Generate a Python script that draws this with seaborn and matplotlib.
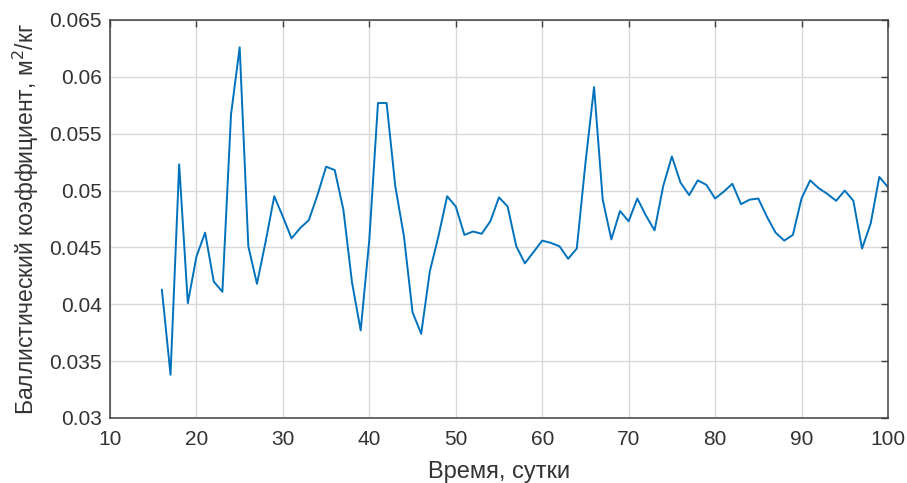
import numpy as np
import pandas as pd
import matplotlib
matplotlib.use("Agg")
import matplotlib.pyplot as plt
import seaborn as sns

days = list(range(16, 101))
coef = [0.0413, 0.0338, 0.0523, 0.0401, 0.0442, 0.0463, 0.0420, 0.0411, 0.0567, 0.0626,
        0.0451, 0.0418, 0.0455, 0.0495, 0.0477, 0.0458, 0.0467, 0.0474, 0.0496, 0.0521,
        0.0518, 0.0483, 0.0419, 0.0377, 0.0457, 0.0577, 0.0577, 0.0504, 0.0460, 0.0393,
        0.0374, 0.0429, 0.0460, 0.0495, 0.0486, 0.0461, 0.0464, 0.0462, 0.0473, 0.0494,
        0.0486, 0.0451, 0.0436, 0.0446, 0.0456, 0.0454, 0.0451, 0.0440, 0.0449, 0.0524,
        0.0591, 0.0492, 0.0457, 0.0482, 0.0473, 0.0493, 0.0478, 0.0465, 0.0504, 0.0530,
        0.0507, 0.0496, 0.0509, 0.0505, 0.0493, 0.0499, 0.0506, 0.0488, 0.0492, 0.0493,
        0.0477, 0.0463, 0.0456, 0.0461, 0.0493, 0.0509, 0.0502, 0.0497, 0.0491, 0.0500,
        0.0491, 0.0449, 0.0471, 0.0512, 0.0503]

xticks = [10, 20, 30, 40, 50, 60, 70, 80, 90, 100]
yticks = [0.03, 0.035, 0.04, 0.045, 0.05, 0.055, 0.06, 0.065]
ytick_labels = ["0.03", "0.035", "0.04", "0.045", "0.05", "0.055", "0.06", "0.065"]

df = pd.DataFrame({"day": days, "coef": coef})

sns.set_style("white")
plt.rcParams["font.family"] = ["Liberation Sans", "DejaVu Sans"]

fig = plt.figure(figsize=(9.07, 4.83), dpi=100)
ax = fig.add_axes([0.1213, 0.1346, 0.8577, 0.824])

sns.lineplot(data=df, x="day", y="coef", ax=ax, color="#0072BD", linewidth=1.4)

ax.set_xlim(10, 100)
ax.set_ylim(0.03, 0.065)
ax.set_xticks(xticks)
ax.set_xticklabels([str(t) for t in xticks])
ax.set_yticks(yticks)
ax.set_yticklabels(ytick_labels)

ax.grid(True, color="#d9d9d9", linewidth=1.0)
ax.set_axisbelow(True)
for s in ax.spines.values():
    s.set_color("#404040")
    s.set_linewidth(1.1)
    s.set_visible(True)

ax.tick_params(axis="both", direction="in", length=5, width=1.0, color="#404040",
               labelsize=15, labelcolor="#333333", top=True, right=True)
ax.tick_params(axis="x", pad=9)
ax.tick_params(axis="y", pad=6)

ax.set_xlabel("Время, сутки", fontsize=17, color="#333333", labelpad=8)
ax.set_ylabel("Баллистический коэффициент, м$^2$/кг", fontsize=16.5, color="#333333", labelpad=6)

fig.savefig("out.png", dpi=100)
